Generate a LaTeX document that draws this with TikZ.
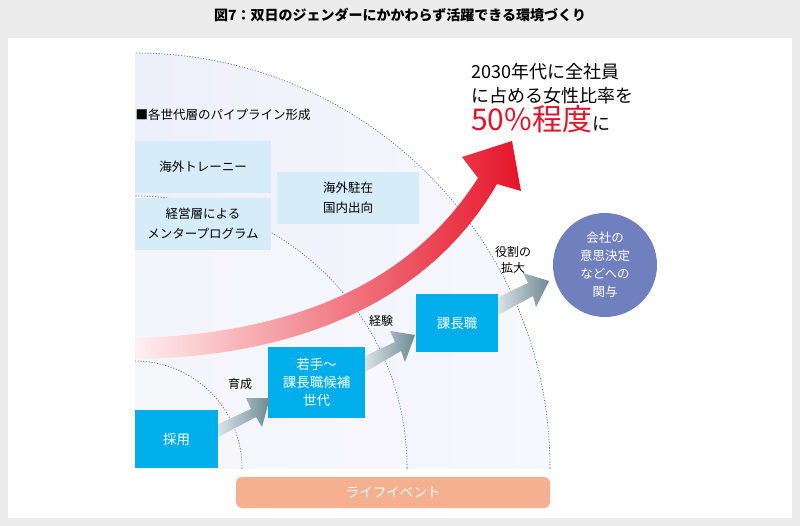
\documentclass[tikz,border=0pt]{standalone}
\usepackage{fontspec}
\setmainfont{Noto Sans CJK JP}
\usetikzlibrary{arrows.meta}
\definecolor{cyanbox}{RGB}{0,174,236}
\definecolor{paleb}{RGB}{214,236,248}
\definecolor{circ}{RGB}{112,128,190}
\definecolor{life}{RGB}{245,176,143}
\definecolor{bgg}{RGB}{236,236,236}
\definecolor{arcl}{RGB}{70,100,170}
\definecolor{redd}{RGB}{230,20,40}
\definecolor{gar}{RGB}{108,138,150}
\tikzset{
 blue box/.style={fill=cyanbox,text=white,align=center,font=\fontsize{13.5}{18}\selectfont,inner sep=0pt},
 pale box/.style={fill=paleb,align=center,font=\fontsize{12.5}{20}\selectfont,inner sep=0pt},
 lbl/.style={font=\fontsize{12}{16}\selectfont,align=left},
 arcline/.style={draw=arcl,dash pattern=on 1.2pt off 1.6pt,line width=0.6pt},
 garrow/.style={left color=gar!25,right color=gar,draw=none}
}
\begin{document}
\begin{tikzpicture}[x=1pt,y=-1pt]
\useasboundingbox (0,0) rectangle (800,526);
\fill[bgg] (0,0) rectangle (800,526);
\fill[white] (8,38) rectangle (792,518);
\node[font=\bfseries\fontsize{14}{16}\selectfont] (title) at (400,15) {図7：双日のジェンダーにかかわらず活躍できる環境づくり};
% quarter discs
\begin{scope}
\clip (135,40) rectangle (560,468);
\shade[left color={rgb,255:red,228;green,232;blue,243},right color=white!97!blue] (135,468) circle (415);
\fill[white,opacity=0.35] (135,468) circle (272);
\fill[white,opacity=0.2] (135,468) circle (107);
\draw[arcline] (135,468) circle (415);
\draw[arcline] (135,468) circle (272);
\draw[arcline] (135,468) circle (107);
\end{scope}
% red curved arrow
\shade[left color=red!6,right color=redd,draw=none]
 (135,338) .. controls (290,334) and (410,285) .. (478,178)
 -- (462,157) -- (512,141) -- (521,191) -- (497,184)
 .. controls (430,300) and (300,357) .. (135,359) -- cycle;
% boxes
\node[pale box,minimum width=136,minimum height=52] (t1) at (203,167) {海外トレーニー};
\node[pale box,minimum width=136,minimum height=52] (t2) at (203,224) {経営層による\\メンタープログラム};
\node[pale box,minimum width=142,minimum height=52] (t3) at (348,198) {海外駐在\\国内出向};
\node[lbl,anchor=west,font=\fontsize{12.5}{16}\selectfont] (head) at (132,115) {■各世代層のパイプライン形成};
\node[blue box,minimum width=83,minimum height=58] (b1) at (176.5,439) {採用};
\node[blue box,minimum width=97,minimum height=71] (b2) at (316.5,382.5) {若手〜\\課長職候補\\世代};
\node[blue box,minimum width=82,minimum height=58] (b3) at (457,323) {課長職};
\node[circle,fill=circ,text=white,minimum size=104,inner sep=0pt,align=center,font=\fontsize{12.5}{18}\selectfont] (c) at (605,265) {会社の\\意思決定\\などへの\\関与};
% grey arrows
\shade[garrow] (b1.east|-0,424) -- (251,409) -- (246,398) -- (270,398) -- (262,427) -- (256,417) -- (b1.east|-0,437) -- cycle;
\shade[garrow] (b2.east|-0,356) -- (395,342) -- (390,331) -- (415,335) -- (405,362) -- (401,351) -- (b2.east|-0,372) -- cycle;
\shade[garrow] (b3.east|-0,297) -- (528,283) -- (523,273) -- (549,281) -- (536,307) -- (533,296) -- (b3.east|-0,315) -- cycle;
\node[lbl] (l1) at (240,384) {育成};
\node[lbl] (l2) at (381,321) {経験};
\node[lbl,align=center] (l3) at (513,260) {役割の\\拡大};
% top text
\node[anchor=north west,align=left,inner sep=0pt,font=\fontsize{18}{24}\selectfont] (goal) at (471,63) {2030年代に全社員\\に占める女性比率を};
\node[anchor=north west,inner sep=0pt] (goal2) at (471,105) {{\color{redd}\fontsize{30}{32}\selectfont 50\%程度}{\fontsize{18}{20}\selectfont に}};
\node[fill=life,text=white,rounded corners=6pt,minimum width=314,minimum height=31,font=\fontsize{13.5}{15}\selectfont] (lf) at (393,492.5) {ライフイベント};
\end{tikzpicture}
\end{document}
